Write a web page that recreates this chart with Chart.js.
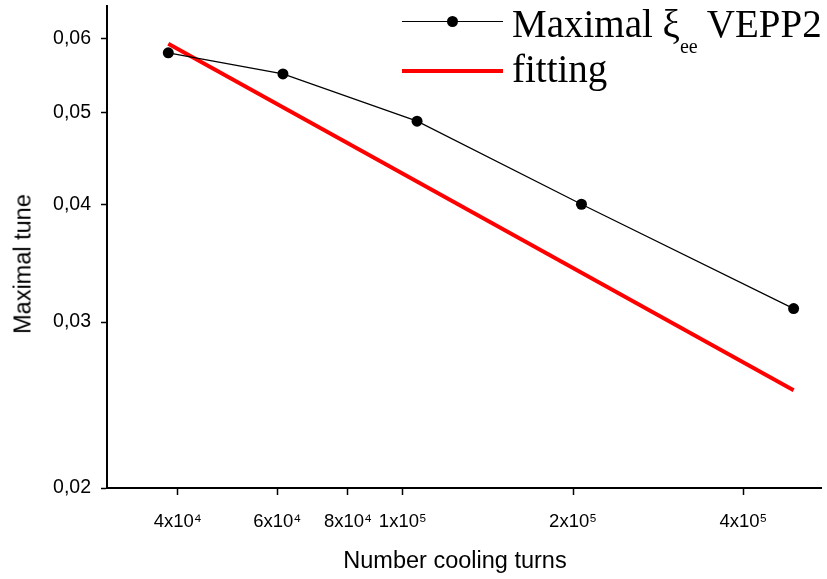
<!DOCTYPE html>
<html>
<head>
<meta charset="utf-8">
<script src="https://cdn.jsdelivr.net/npm/chart.js@4.4.1/dist/chart.umd.min.js"></script>
<style>
  body { margin: 0; background: #fff; }
  #wrap { position: relative; width: 827px; height: 579px; }
  .legend-text {
    position: absolute; left: 512px; margin: 0; white-space: nowrap;
    font-family: "Liberation Serif", "Times New Roman", serif;
    font-size: 39px; line-height: 39px; color: #000;
  }
  .legend-text sub { font-size: 20px; vertical-align: -16px; line-height: 0; }
  .sym { position: absolute; left: 402px; width: 101px; }
  .sym.black { top: 21px; border-top: 1px solid #000; }
  .sym.red { top: 69px; border-top: 4px solid #f00; }
  .dot { position: absolute; left: 45px; top: -6px; width: 11px; height: 11px; border-radius: 50%; background: #000; }
  .axis-title {
    position: absolute; white-space: nowrap;
    font-family: "Liberation Sans", Arial, sans-serif; font-size: 23.5px; color: #000;
  }
  .y-title { left: 23px; top: 264px; transform: translate(-50%, -50%) rotate(-90deg); }
  .x-title { left: 455px; top: 560px; transform: translate(-50%, -50%); }
</style>
</head>
<body>
<div id="wrap">
  <canvas id="tuneChart" width="827" height="579"></canvas>
  <div class="sym black"><div class="dot"></div></div>
  <div class="legend-text" style="top:4px">Maximal ξ<sub>ee</sub> VEPP2</div>
  <div class="sym red"></div>
  <div class="legend-text" style="top:49px">fitting</div>
  <div class="axis-title y-title">Maximal tune</div>
  <div class="axis-title x-title">Number cooling turns</div>
</div>
<script>
// measured maximal tune vs number of cooling turns
const turns = [38500, 61400, 106000, 207000, 491000];
const maxTune = [0.0579, 0.0550, 0.0490, 0.0400, 0.0310];

// straight fit line on log-log axes, end points
const fitTurns = [38500, 491000];
const fitTune = [0.0592, 0.0254];

const xTickValues = [40000, 60000, 80000, 100000, 200000, 400000];
const xTickLabels = ['4x10⁴', '6x10⁴', '8x10⁴', '1x10⁵', '2x10⁵', '4x10⁵'];
const yTickValues = [0.02, 0.03, 0.04, 0.05, 0.06];
const yTickLabels = ['0,02', '0,03', '0,04', '0,05', '0,06'];

const sans = '"Liberation Sans", Arial, sans-serif';

function toPoints(xs, ys) {
    return xs.map((x, i) => ({ x: x, y: ys[i] }));
}

// keep the plot box fixed, no extra room for edge labels
function noEdgePadding(s) {
    s.paddingTop = 0;
    s.paddingBottom = 0;
    s.paddingLeft = 0;
    s.paddingRight = 0;
}

const ctx = document.getElementById('tuneChart').getContext('2d');
new Chart(ctx, {
    type: 'scatter',
    data: {
        datasets: [{
            label: 'Maximal ξee VEPP2',
            data: toPoints(turns, maxTune),
            showLine: true,
            borderColor: '#000',
            borderWidth: 1.2,
            pointRadius: 5.5,
            pointBackgroundColor: '#000',
            pointBorderWidth: 0,
            order: 1
        }, {
            label: 'fitting',
            data: toPoints(fitTurns, fitTune),
            showLine: true,
            borderColor: '#f00',
            borderWidth: 4,
            pointRadius: 0,
            order: 2
        }]
    },
    options: {
        responsive: false,
        animation: false,
        layout: { padding: { top: 5, right: 0, bottom: 0, left: 0 } },
        plugins: {
            legend: { display: false },
            tooltip: { enabled: false }
        },
        scales: {
            x: {
                type: 'logarithmic',
                min: 30000,
                max: 550000,
                border: { color: '#000', width: 2 },
                grid: { drawOnChartArea: false, color: '#000', tickLength: 7, tickWidth: 1.5 },
                ticks: {
                    color: '#000',
                    font: { family: sans, size: 18.5 },
                    padding: 16,
                    autoSkip: false,
                    maxRotation: 0,
                    callback: v => xTickLabels[xTickValues.indexOf(v)]
                },
                afterBuildTicks: s => { s.ticks = xTickValues.map(v => ({ value: v })); },
                afterFit: s => { s.height = 91; noEdgePadding(s); }
            },
            y: {
                type: 'logarithmic',
                min: 0.02,
                max: 0.065,
                border: { color: '#000', width: 2 },
                grid: { drawOnChartArea: false, color: '#000', tickLength: 6, tickWidth: 1.5 },
                ticks: {
                    color: '#000',
                    font: { family: sans, size: 19.5 },
                    padding: 10,
                    callback: v => yTickLabels[yTickValues.indexOf(v)]
                },
                afterBuildTicks: s => { s.ticks = yTickValues.map(v => ({ value: v })); },
                afterFit: s => { s.width = 107; noEdgePadding(s); }
            }
        }
    }
});
</script>
</body>
</html>
